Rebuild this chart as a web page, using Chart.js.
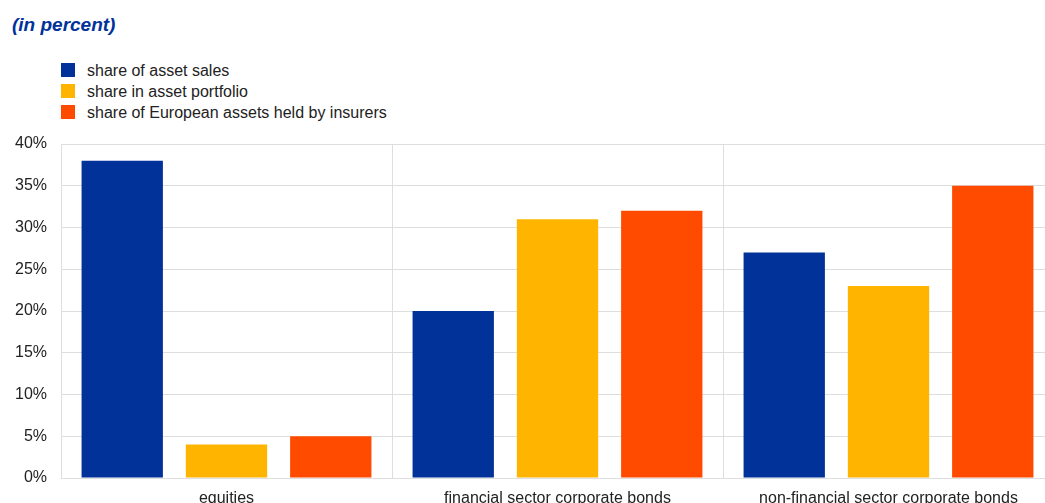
<!DOCTYPE html>
<html>
<head>
<meta charset="utf-8">
<script src="https://cdn.jsdelivr.net/npm/chart.js@4"></script>
<style>
    html, body { margin: 0; padding: 0; background: #fff; overflow: hidden; width: 1045px; height: 503px; }
    body { position: relative; font-family: "Liberation Sans", Arial, sans-serif; }
    #title { position: absolute; left: 12px; top: 14px; font-size: 19px; line-height: 22px; font-weight: bold; font-style: italic; color: #003299; }
    #legend { position: absolute; left: 61px; top: 63px; font-size: 16px; color: #222; }
    .item { height: 21px; line-height: 15px; display: flex; align-items: flex-start; }
    .box { width: 14px; height: 14px; margin-right: 12px; }
    #wrap { position: absolute; left: 0; top: 0; width: 1056px; height: 503px; }
</style>
</head>
<body>
<div id="title">(in percent)</div>
<div id="legend"></div>
<div id="wrap"><canvas id="chart"></canvas></div>
<script>
document.addEventListener('DOMContentLoaded', function() {
    const categories = ['equities', 'financial sector corporate bonds', 'non-financial sector corporate bonds'];
    const seriesNames = ['share of asset sales', 'share in asset portfolio', 'share of European assets held by insurers'];
    const assetSales = [38, 20, 27];
    const assetPortfolio = [4, 31, 23];
    const insurersShare = [5, 32, 35];
    const colors = ['#003299', '#FFB400', '#FF4B00'];
    const yTicks = [0, 5, 10, 15, 20, 25, 30, 35, 40];

    const values = [assetSales, assetPortfolio, insurersShare];

    // html legend, one row per series
    const legend = document.getElementById('legend');
    seriesNames.forEach((name, i) => {
        const row = document.createElement('div');
        row.className = 'item';
        row.innerHTML = '<div class="box" style="background:' + colors[i] + '"></div><span>' + name + '</span>';
        legend.appendChild(row);
    });

    const ctx = document.getElementById('chart').getContext('2d');
    new Chart(ctx, {
        type: 'bar',
        data: {
            labels: categories,
            datasets: seriesNames.map((name, i) => ({
                label: name,
                data: values[i],
                backgroundColor: colors[i],
                borderWidth: 0,
                barPercentage: 0.78,
                categoryPercentage: 0.945
            }))
        },
        options: {
            responsive: true,
            maintainAspectRatio: false,
            animation: false,
            layout: { padding: { top: 144, left: 0, right: 2, bottom: 0 } },
            plugins: {
                legend: { display: false },
                tooltip: { enabled: false }
            },
            scales: {
                x: {
                    grid: { color: '#dedede', lineWidth: 1, drawTicks: false },
                    border: { color: '#dedede' },
                    ticks: {
                        color: '#222',
                        padding: 11,
                        font: { family: '"Liberation Sans", Arial, sans-serif', size: 16 }
                    },
                    afterFit: function(scale) { scale.height = 25; }
                },
                y: {
                    min: 0,
                    max: 40,
                    afterBuildTicks: function(scale) {
                        scale.ticks = yTicks.map(v => ({ value: v }));
                    },
                    grid: { color: '#dedede', lineWidth: 1, drawTicks: false },
                    border: { color: '#dedede' },
                    ticks: {
                        color: '#222',
                        padding: 14,
                        font: { family: '"Liberation Sans", Arial, sans-serif', size: 16 },
                        callback: v => v + '%'
                    },
                    afterFit: function(scale) { scale.width = 61; }
                }
            }
        }
    });
});
</script>
</body>
</html>
